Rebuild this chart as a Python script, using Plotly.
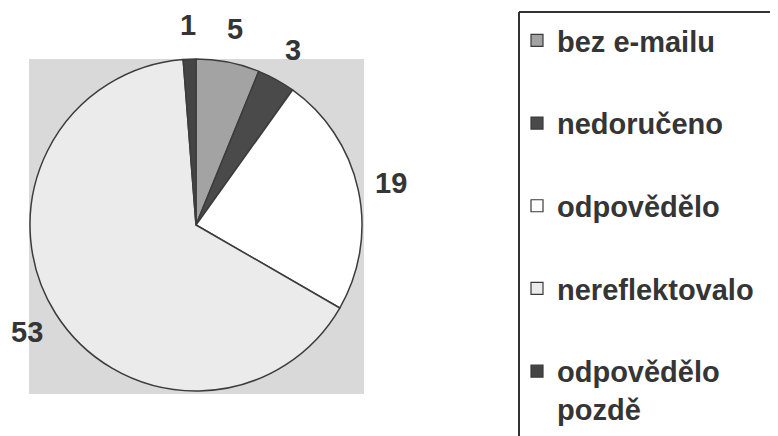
import math
import plotly.graph_objects as go

# ---- data ----
categories = ["bez e-mailu", "nedoručeno", "odpovědělo", "nereflektovalo", "odpovědělo<br>pozdě"]
values = [5, 3, 19, 53, 1]
colors = ["#a3a3a3", "#4a4a4a", "#ffffff", "#ebebeb", "#444444"]

W, H = 778, 436
OX, OY = 9, 8                  # page offset of the plot div (body margin)
FONT = "Liberation Sans, Arial, sans-serif"
TXT = "#353535"

cx, cy, r = 197 - OX, 225 - OY, 166   # pie centre / radius in px (figure coords)
RL = 200                               # radius at which value labels are centred

def px(x):
    return (x - OX) / W

def py(y):
    return 1 - (y - OY) / H

fig = go.Figure()

fig.add_trace(go.Pie(
    labels=categories, values=values, sort=False, direction="clockwise", rotation=0,
    marker=dict(colors=colors, line=dict(color="#3c3c3c", width=1.5)),
    textinfo="none", showlegend=False, hoverinfo="label+value",
    domain=dict(x=[(cx - r) / W, (cx + r) / W], y=[1 - (cy + r) / H, 1 - (cy - r) / H]),
))

# value labels placed at the mid-angle of each slice
total = sum(values)
annotations = []
cum = 0
for v in values:
    a = math.radians((cum + v / 2) / total * 360)
    cum += v
    annotations.append(dict(
        x=(cx + RL * math.sin(a)) / W, y=1 - (cy - RL * math.cos(a)) / H,
        xref="paper", yref="paper", text=str(v), showarrow=False,
        xanchor="center", yanchor="middle",
        font=dict(family=FONT, size=29, color=TXT, weight="bold"),
    ))

# legend entries
for i, (c, col) in enumerate(zip(categories, colors)):
    fig.add_trace(go.Bar(
        x=[None], y=[None], name=c, legendgroup=f"g{i}",
        marker=dict(color=col, line=dict(color="#3a3a3a", width=1.2)),
        showlegend=True,
    ))

fig.update_layout(
    width=W, height=H, autosize=False,
    margin=dict(l=0, r=0, t=0, b=0),
    paper_bgcolor="white", plot_bgcolor="rgba(0,0,0,0)",
    xaxis=dict(visible=False, domain=[0.99, 1]), yaxis=dict(visible=False),
    annotations=annotations,
    legend=dict(
        x=px(518), y=py(15), xanchor="left", yanchor="top",
        traceorder="grouped", tracegroupgap=42, valign="top",
        font=dict(family=FONT, size=29, color=TXT, weight="bold"),
        bgcolor="rgba(0,0,0,0)", itemwidth=30,
    ),
    shapes=[
        dict(type="rect", xref="paper", yref="paper",
             x0=px(30), x1=px(365), y0=py(394), y1=py(59),
             fillcolor="#d9d9d9", line=dict(width=0), layer="below"),
        dict(type="line", xref="paper", yref="paper",
             x0=px(520), x1=1, y0=py(12), y1=py(12),
             line=dict(color="#333333", width=2)),
        dict(type="line", xref="paper", yref="paper",
             x0=px(520), x1=px(520), y0=py(12), y1=0,
             line=dict(color="#333333", width=2)),
    ],
)

fig.write_html("out.html")
